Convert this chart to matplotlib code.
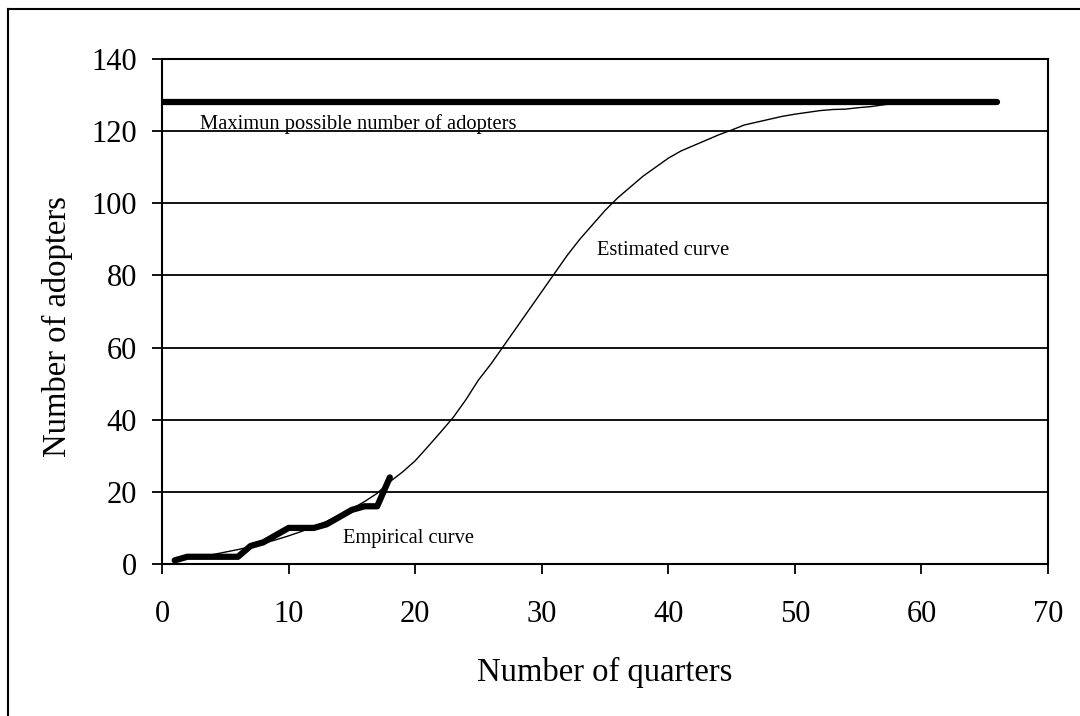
import numpy as np
import matplotlib
matplotlib.use('Agg')
import matplotlib.pyplot as plt
from matplotlib.lines import Line2D

plt.rcParams['font.family'] = ['Liberation Serif', 'DejaVu Serif']

# empirical adopters per quarter
emp_q = [1, 2, 3, 4, 5, 6, 7, 8, 9, 10, 11, 12, 13, 14, 15, 16, 17, 18]
emp_n = [1, 2, 2, 2, 2, 2, 5, 6, 8, 10, 10, 10, 11, 13, 15, 16, 16, 24]

# estimated (fitted) curve
est_q = list(range(1, 62))
est_n = [1.0, 1.5, 2.0, 2.6, 3.3, 4.0, 4.8, 5.7, 6.7, 7.8,
         9.0, 10.3, 11.8, 13.5, 15.3, 17.3, 19.6, 22.8, 25.5, 28.6,
         32.5, 36.5, 40.6, 45.5, 51.0, 55.5, 60.5, 65.5, 70.5, 75.5,
         80.5, 85.5, 90.0, 94.0, 98.0, 101.5, 104.5, 107.5, 110.0, 112.5,
         114.5, 116.0, 117.5, 119.0, 120.3, 121.7, 122.5, 123.3, 124.1, 124.7,
         125.2, 125.7, 126.0, 126.1, 126.5, 126.8, 127.3, 127.7, 128.0, 128.0,
         128.0]

# saturation level
max_q = [0, 66]
max_n = [128, 128]

fig = plt.figure(figsize=(10.8, 7.16), dpi=100)
ax = fig.add_axes([0.15, 0.2123, 0.8204, 0.7053])

ax.set_axisbelow(True)
ax.yaxis.grid(True, color='black', linewidth=1.3)
ax.plot(max_q, max_n, color='black', linewidth=4.5, solid_capstyle='round')
ax.plot(est_q, est_n, color='black', linewidth=1.0)
ax.plot(emp_q, emp_n, color='black', linewidth=4.5, solid_capstyle='round',
        solid_joinstyle='round')

ax.text(3.0, 122, 'Maximun possible number of adopters', fontsize=14.8,
        va='center', ha='left')
ax.text(34.4, 87, 'Estimated curve', fontsize=14.8, va='center', ha='left')
ax.text(14.3, 7.2, 'Empirical curve', fontsize=14.8, va='center', ha='left')

ax.set_xlim(0, 70)
ax.set_ylim(0, 140)
ax.set_xticks(range(0, 71, 10))
ax.set_yticks(range(0, 141, 20))
ax.tick_params(direction='out', length=7, width=1.3, labelsize=22)
ax.tick_params(axis='x', pad=19)
ax.tick_params(axis='y', pad=11)
for s in ax.spines.values():
    s.set_linewidth(1.5)

ax.set_xlabel('Number of quarters', fontsize=23.5, labelpad=20)
ax.set_ylabel('Number of adopters', fontsize=23.5)
ax.yaxis.set_label_coords(-0.101, 0.471)

# outer frame (left and top edges visible)
fig.add_artist(Line2D([8 / 1080, 8 / 1080], [0, 1 - 9 / 716],
                      transform=fig.transFigure, color='black', linewidth=1.5))
fig.add_artist(Line2D([8 / 1080, 1], [1 - 9 / 716, 1 - 9 / 716],
                      transform=fig.transFigure, color='black', linewidth=1.5))

fig.savefig('out.png', dpi=100)
